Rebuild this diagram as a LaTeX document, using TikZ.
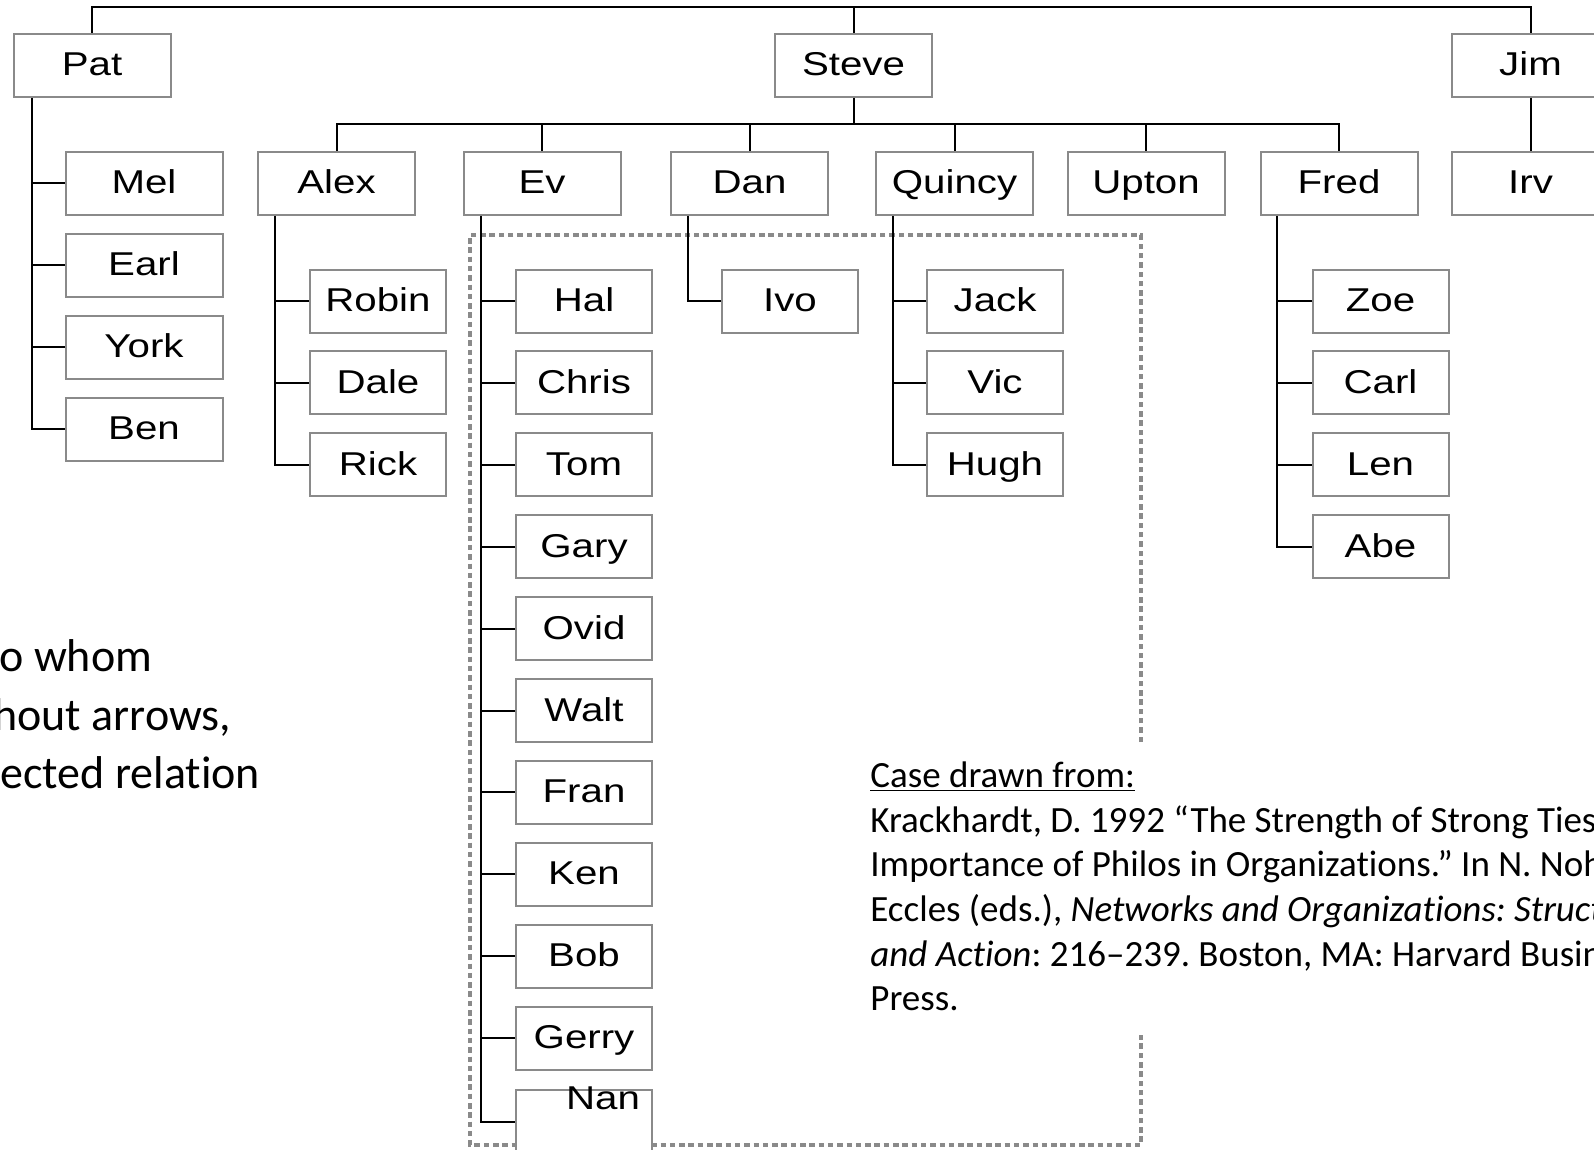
\documentclass[tikz,border=0pt]{standalone}
\usepackage{fontspec}
\setmainfont{Carlito}[Ligatures=NoCommon]
\newfontfamily\boxfont[FakeStretch=1.22]{Liberation Sans}
\definecolor{boxgray}{HTML}{8A8A8A}
\frenchspacing
\tikzset{
  unitbox/.style={draw=boxgray, line width=1pt, fill=white, inner sep=0pt,
    minimum height=31.5pt, text height=12.5pt, text depth=2pt,
    font=\boxfont\fontsize{16.5}{18}\selectfont},
  bigbox/.style={unitbox, minimum width=78.5pt},
  smallbox/.style={unitbox, minimum width=68pt},
  conn/.style={line width=1pt, black},
  dotframe/.style={draw=boxgray, line width=1.9pt, dash pattern=on 2.75pt off 1.9pt},
  cite/.style={anchor=base west, inner sep=0pt, font=\fontsize{18.5}{22}\selectfont},
  note/.style={anchor=base west, inner sep=0pt, font=\fontsize{23}{28}\selectfont}
}
\begin{document}
\begin{tikzpicture}[x=0.5pt,y=-0.5pt]
\useasboundingbox (0,0) rectangle (1594,1150);
\fill[white] (0,0) rectangle (1594,1150);
\clip (0,0) rectangle (1594,1150);

% dotted frame around Ev's group (open on the right where the reference sits)
\draw[dotframe] (1141,742) -- (1141,235) -- (470,235) -- (470,1145) -- (1141,1145) -- (1141,1035);

% top level
\node[bigbox] (pat)   at (92,65.5)    {Pat};
\node[bigbox] (steve) at (853.5,65.5) {Steve};
\node[bigbox] (jim)   at (1530.5,65.5){Jim};

% second level
\node[bigbox] (mel)    at (144,183.5)   {Mel};
\node[bigbox] (earl)   at (144,265.4)   {Earl};
\node[bigbox] (york)   at (144,347.3)   {York};
\node[bigbox] (ben)    at (144,429.2)   {Ben};
\node[bigbox] (alex)   at (336.5,183.5) {Alex};
\node[bigbox] (ev)     at (542,183.5)   {Ev};
\node[bigbox] (dan)    at (749.5,183.5) {Dan};
\node[bigbox] (quincy) at (954.5,183.5) {Quincy};
\node[bigbox] (upton)  at (1146,183.5)  {Upton};
\node[bigbox] (fred)   at (1339,183.5)  {Fred};
\node[bigbox] (irv)    at (1530.5,183.5){Irv};

% third level
\node[smallbox] (robin) at (378,301)   {Robin};
\node[smallbox] (dale)  at (378,382.9) {Dale};
\node[smallbox] (rick)  at (378,464.8) {Rick};

\node[smallbox] (hal)   at (584,301)    {Hal};
\node[smallbox] (chris) at (584,382.9)  {Chris};
\node[smallbox] (tom)   at (584,464.8)  {Tom};
\node[smallbox] (gary)  at (584,546.7)  {Gary};
\node[smallbox] (ovid)  at (584,628.6)  {Ovid};
\node[smallbox] (walt)  at (584,710.5)  {Walt};
\node[smallbox] (fran)  at (584,792.4)  {Fran};
\node[smallbox] (ken)   at (584,874.3)  {Ken};
\node[smallbox] (bob)   at (584,956.2)  {Bob};
\node[smallbox] (gerry) at (584,1038.1) {Gerry};
\node[smallbox] (nan)   at (584,1121.5) {\raisebox{11.5pt}{\hspace*{19pt}Nan}};

\node[smallbox] (ivo)   at (790,301)   {Ivo};

\node[smallbox] (jack)  at (995,301)   {Jack};
\node[smallbox] (vic)   at (995,382.9) {Vic};
\node[smallbox] (hugh)  at (995,464.8) {Hugh};

\node[smallbox] (zoe)   at (1380.5,301)   {Zoe};
\node[smallbox] (carl)  at (1380.5,382.9) {Carl};
\node[smallbox] (len)   at (1380.5,464.8) {Len};
\node[smallbox] (abe)   at (1380.5,546.7) {Abe};

% connectors
\coordinate (toprail) at (853.5,7);
\draw[conn] (pat.north) |- (toprail) -| (jim.north);
\draw[conn] (steve.north) -- (toprail);
\draw[conn] (jim.south) -- (irv.north);

\coordinate (stevebus) at (853.5,124);
\draw[conn] (steve.south) -- (stevebus);
\draw[conn] (alex.north) |- (stevebus) -| (fred.north);
\foreach \c in {ev,dan,quincy,upton}
  \draw[conn] (\c.north) -- (\c.north |- stevebus);

\coordinate (pattrunk) at ([xshift=9.5pt]pat.south west);
\draw[conn] (pattrunk) |- (ben.west);
\foreach \c in {mel,earl,york}
  \draw[conn] (\c.west) -- (\c.west -| pattrunk);

\coordinate (alextrunk) at ([xshift=9pt]alex.south west);
\draw[conn] (alextrunk) |- (rick.west);
\foreach \c in {robin,dale}
  \draw[conn] (\c.west) -- (\c.west -| alextrunk);

\coordinate (evtrunk) at ([xshift=9pt]ev.south west);
\draw[conn] (evtrunk) |- (nan.west);
\foreach \c in {hal,chris,tom,gary,ovid,walt,fran,ken,bob,gerry}
  \draw[conn] (\c.west) -- (\c.west -| evtrunk);

\coordinate (dantrunk) at ([xshift=9pt]dan.south west);
\draw[conn] (dantrunk) |- (ivo.west);

\coordinate (quincytrunk) at ([xshift=9pt]quincy.south west);
\draw[conn] (quincytrunk) |- (hugh.west);
\foreach \c in {jack,vic}
  \draw[conn] (\c.west) -- (\c.west -| quincytrunk);

\coordinate (fredtrunk) at ([xshift=8.5pt]fred.south west);
\draw[conn] (fredtrunk) |- (abe.west);
\foreach \c in {zoe,carl,len}
  \draw[conn] (\c.west) -- (\c.west -| fredtrunk);

% side note
\node[note] (note1) at (-1,671) {o whom};
\node[note] (note2) at (-7,730) {hout arrows,};
\node[note] (note3) at (0,788)  {ected relation};

% reference
\node[cite] (cite1) at (870,787)  {\underline{Case drawn from:}};
\node[cite] (cite2) at (870,832)  {Krackhardt, D. 1992 “The Strength of Strong Ties};
\node[cite] (cite3) at (870,876)  {Importance of Philos in Organizations.” In N. Noh};
\node[cite] (cite4) at (870,921)  {Eccles (eds.), \textit{Networks and Organizations: Struct}};
\node[cite] (cite5) at (870,966)  {\textit{and Action}: 216–239. Boston, MA: Harvard Busin};
\node[cite] (cite6) at (870,1010) {Press.};
\end{tikzpicture}
\end{document}
